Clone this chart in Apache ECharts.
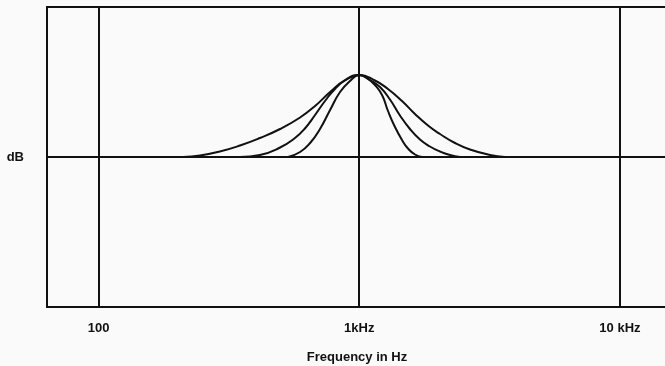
<!DOCTYPE html>
<html>
<head>
<meta charset="utf-8">
<script src="https://cdn.jsdelivr.net/npm/echarts@6/dist/echarts.min.js"></script>
<style>
  html, body { margin: 0; padding: 0; background: #fafafa; }
  #chart { width: 665px; height: 366px; }
</style>
</head>
<body>
<div id="chart"></div>
<script>
// Frequency response of a peaking filter at three bandwidths (gain in dB vs frequency in Hz)
const tickLabels = { 100: '100', 1000: '1kHz', 10000: '10 kHz' };

// widest bandwidth
const wideFreq = [211, 245, 292, 349, 416, 497, 593, 677, 773, 882, 1000, 1149, 1289, 1459, 1636, 1835, 2040, 2329, 2659, 3172, 3622];
const wideGain = [0, 0.15, 0.55, 1.15, 1.9, 2.8, 3.95, 5.1, 6.5, 7.7, 8.2, 7.65, 6.8, 5.6, 4.3, 3.15, 2.3, 1.4, 0.75, 0.2, 0];

// medium bandwidth
const midFreq = [349, 416, 497, 567, 619, 677, 739, 807, 882, 1000, 1100, 1201, 1312, 1433, 1565, 1710, 1867, 2040, 2229, 2434];
const midGain = [0, 0.2, 0.95, 1.9, 2.85, 4.2, 5.6, 6.8, 7.65, 8.2, 7.7, 7.0, 5.75, 4.15, 2.8, 1.75, 1.05, 0.55, 0.2, 0];

// narrowest bandwidth
const narrowFreq = [533, 593, 648, 707, 773, 844, 922, 1000, 1080, 1149, 1223, 1289, 1371, 1459, 1538, 1636, 1741];
const narrowGain = [0, 0.5, 1.4, 2.8, 4.7, 6.5, 7.6, 8.2, 7.8, 7.2, 6.2, 4.6, 3.0, 1.7, 0.85, 0.25, 0];

const pairs = (xs, ys) => xs.map((x, i) => [x, ys[i]]);

const ink = '#111';
const font = '"Liberation Sans", Arial, Helvetica, sans-serif';
const text = { color: ink, fontSize: 13, fontWeight: 'bold', fontFamily: font };

const curve = (name, data) => ({
  name,
  type: 'line',
  data,
  symbol: 'none',
  smooth: 0.5,
  lineStyle: { color: ink, width: 2 },
  z: 5
});

const chart = echarts.init(document.getElementById('chart'));
chart.setOption({
  backgroundColor: '#fafafa',
  animation: false,
  grid: {
    left: 47, right: -2, top: 7, bottom: 59,
    outerBoundsMode: 'none',
    containLabel: false,
    show: true, borderColor: ink, borderWidth: 2, backgroundColor: 'transparent'
  },
  xAxis: {
    type: 'log',
    logBase: 10,
    min: 63.45,
    max: 15149,
    name: 'Frequency in Hz',
    nameLocation: 'middle',
    nameGap: 44,
    nameTextStyle: text,
    axisLine: { show: false },
    axisTick: { show: true, length: 4, lineStyle: { color: ink, width: 2 } },
    axisLabel: Object.assign({}, text, {
      margin: 15,
      showMinLabel: false, showMaxLabel: false,
      formatter: v => tickLabels[Math.round(v)] || ''
    }),
    splitLine: {
      show: true, showMinLine: false, showMaxLine: false,
      lineStyle: { color: ink, width: 2 }
    }
  },
  yAxis: {
    type: 'value',
    min: -15,
    max: 15,
    interval: 15,
    axisLine: { show: false },
    axisTick: { show: false },
    axisLabel: Object.assign({}, text, {
      margin: 23,
      formatter: v => (v === 0 ? 'dB' : '')
    }),
    splitLine: {
      show: true, showMinLine: false, showMaxLine: false,
      lineStyle: { color: ink, width: 2 }
    }
  },
  series: [
    curve('wide', pairs(wideFreq, wideGain)),
    curve('medium', pairs(midFreq, midGain)),
    curve('narrow', pairs(narrowFreq, narrowGain))
  ]
});
</script>
</body>
</html>
